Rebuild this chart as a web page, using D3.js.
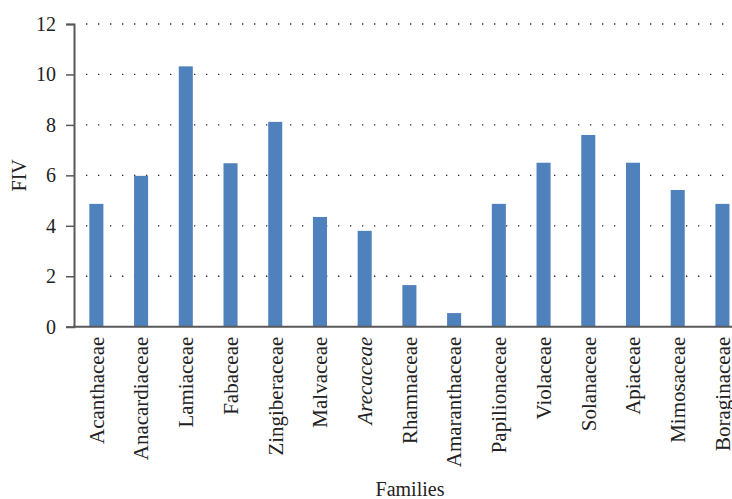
<!DOCTYPE html>
<html>
<head>
<meta charset="utf-8">
<script src="https://cdn.jsdelivr.net/npm/d3@7"></script>
<style>
	html, body { margin: 0; padding: 0; background: #fff; }
	svg { display: block; font-family: 'Liberation Serif', 'DejaVu Serif', serif; }
</style>
</head>
<body>
<svg id="chart" width="732" height="499"></svg>
<script>
// values
const families = [
	'Acanthaceae', 'Anacardiaceae', 'Lamiaceae', 'Fabaceae', 'Zingiberaceae',
	'Malvaceae', 'Arecaceae', 'Rhamnaceae', 'Amaranthaceae', 'Papilionaceae',
	'Violaceae', 'Solanaceae', 'Apiaceae', 'Mimosaceae', 'Boraginaceae'
];
const fiv = [4.87, 5.98, 10.32, 6.48, 8.12, 4.35, 3.8, 1.65, 0.54, 4.87, 6.5, 7.6, 6.5, 5.42, 4.87];
const italicFamilies = ['Arecaceae'];
const yTicks = [0, 2, 4, 6, 8, 10, 12];

const BAR = '#4f81bd';
const AXIS = '#595959';
const FONT = "'Liberation Serif', serif";

const plotLeft = 74;
const plotTop = 24;
const plotBottom = 326.7;
const step = 44.72;

const $svg = d3.select('#chart');

const x = d3.scaleBand()
	.domain(families)
	.range([plotLeft, plotLeft + step * families.length])
	.paddingInner(0.686)
	.paddingOuter(0.343);

const y = d3.scaleLinear()
	.domain([0, 12])
	.range([plotBottom, plotTop]);

// dotted gridlines
$svg.append('g')
	.selectAll('line')
	.data(yTicks.filter(d => d > 0))
	.enter()
	.append('line')
	.attr('x1', plotLeft + 12)
	.attr('x2', 732)
	.attr('y1', d => y(d))
	.attr('y2', d => y(d))
	.attr('stroke', '#222')
	.attr('stroke-width', 1.3)
	.attr('stroke-dasharray', '1.3 10.7');

// bars
$svg.append('g')
	.selectAll('rect')
	.data(families)
	.enter()
	.append('rect')
	.attr('x', d => x(d))
	.attr('width', x.bandwidth())
	.attr('y', (d, i) => y(fiv[i]))
	.attr('height', (d, i) => plotBottom - y(fiv[i]))
	.attr('fill', BAR);

// y axis
const yAxis = d3.axisLeft(y)
	.tickValues(yTicks)
	.tickSize(8)
	.tickPadding(10)
	.tickFormat(d3.format('d'));

const $y = $svg.append('g')
	.attr('transform', `translate(${plotLeft},0)`)
	.call(yAxis)
	.attr('font-family', FONT)
	.attr('font-size', 20);
$y.select('.domain').attr('stroke', AXIS).attr('stroke-width', 2);
$y.selectAll('.tick line').attr('stroke', AXIS).attr('stroke-width', 1.5);
$y.selectAll('.tick text').attr('fill', '#222');

// x axis
const xAxis = d3.axisBottom(x).tickSize(0).tickPadding(0);
const $x = $svg.append('g')
	.attr('transform', `translate(0,${plotBottom})`)
	.call(xAxis)
	.attr('font-family', FONT)
	.attr('font-size', 21);
$x.select('.domain').remove();
$x.append('line')
	.attr('x1', plotLeft - 1)
	.attr('x2', 732)
	.attr('stroke', AXIS)
	.attr('stroke-width', 2);
$x.selectAll('.tick text')
	.attr('fill', '#222')
	.attr('transform', 'rotate(-90)')
	.attr('text-anchor', 'end')
	.attr('x', -10)
	.attr('y', 0)
	.attr('dy', '0.35em')
	.style('font-style', d => (italicFamilies.includes(d) ? 'italic' : 'normal'));

// axis titles
$svg.append('text')
	.attr('transform', `translate(26,${(plotTop + plotBottom) / 2}) rotate(-90)`)
	.attr('text-anchor', 'middle')
	.attr('fill', '#222')
	.attr('font-family', FONT)
	.attr('font-size', 20)
	.text('FIV');

$svg.append('text')
	.attr('x', 410)
	.attr('y', 496)
	.attr('text-anchor', 'middle')
	.attr('fill', '#222')
	.attr('font-family', FONT)
	.attr('font-size', 20)
	.text('Families');
</script>
</body>
</html>
